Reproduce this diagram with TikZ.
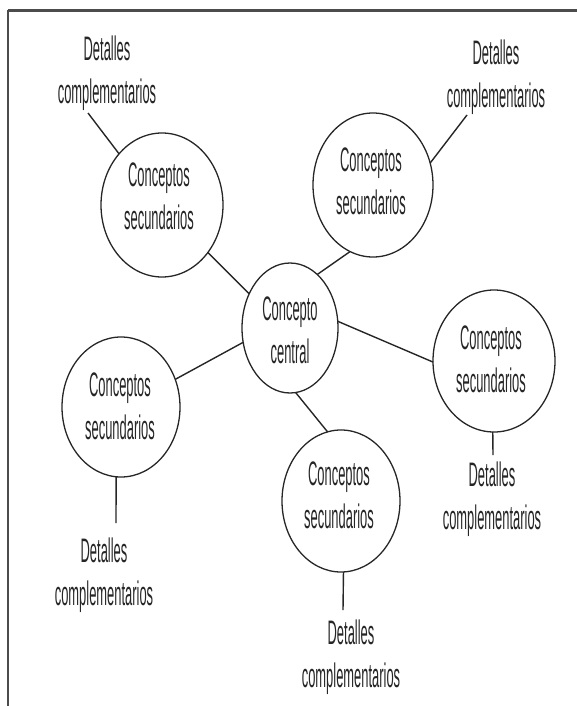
\documentclass[tikz,border=0pt]{standalone}
\usepackage{fontspec}
\newfontfamily\condfont{Liberation Sans}[FakeStretch=0.38]
\usetikzlibrary{shapes.geometric}
\begin{document}
\begin{tikzpicture}[x=1pt,y=-1pt,
  bubble/.style={ellipse, draw=black!85, line width=1.3pt, inner sep=0pt, outer sep=0pt},
  lbl/.style={font=\condfont\fontsize{34}{43}\selectfont, align=center, text=black!85, inner sep=0pt},
  link/.style={draw=black!85, line width=1.4pt},
  frameline/.style={draw=black!70}]
\useasboundingbox (0,0) rectangle (577,706);
% frame
\coordinate (f0) at (8,10.5);
\coordinate (f1) at (577,10.5);
\coordinate (f2) at (8,706);
\draw[frameline, line width=2.2pt] (f0) -- (f1);
\draw[frameline, line width=1.5pt] (f0) -- (f2);

% bubbles
\node[bubble, minimum width=96pt, minimum height=130pt] (c) at (290,328) {};
\node[bubble, minimum width=122pt, minimum height=144pt] (s1) at (162,205) {};
\node[bubble, minimum width=120pt, minimum height=144pt] (s2) at (373,185) {};
\node[bubble, minimum width=122pt, minimum height=142pt] (s3) at (494,361) {};
\node[bubble, minimum width=118pt, minimum height=140pt] (s4) at (121,407) {};
\node[bubble, minimum width=118pt, minimum height=142pt] (s5) at (341,501) {};

% bubble texts
\node[lbl] (ct) at (290,330.5) {Concepto\\central};
\node[lbl] (t1) at (159,196.5) {Conceptos\\secundarios};
\node[lbl] (t2) at (371,181) {Conceptos\\secundarios};
\node[lbl] (t3) at (491,359) {Conceptos\\secundarios};
\node[lbl] (t4) at (120,406) {Conceptos\\secundarios};
\node[lbl] (t5) at (339,495.5) {Conceptos\\secundarios};

% detail texts
\node[lbl] (d1) at (107,73) {Detalles\\complementarios};
\node[lbl] (d2) at (496,77) {Detalles\\complementarios};
\node[lbl] (d3) at (492,499) {Detalles\\complementarios};
\node[lbl] (d4) at (104,575) {Detalles\\complementarios};
\node[lbl] (d5) at (351,657) {Detalles\\complementarios};

% connectors centre - secondary
\draw[link] (s1.-46.8) -- (c.140.2);
\draw[link] (s2.251.3) -- (c.63.9);
\draw[link] (c.8.3) -- (s3.181);
\draw[link] (s4.27) -- (c.197.4);
\draw[link] (c.-85.5) -- (s5.101);

% connectors secondary - details
\coordinate (e1) at (88,113);
\coordinate (e2) at (467,115);
\coordinate (e3) at (493,455);
\coordinate (e4) at (116,523);
\coordinate (e5) at (343,610);
\draw[link] (s1.130.2) -- (e1);
\draw[link] (s2.21.3) -- (e2);
\draw[link] (s3.-91) -- (e3);
\draw[link] (s4.-94) -- (e4);
\draw[link] (s5.-88) -- (e5);
\end{tikzpicture}
\end{document}
